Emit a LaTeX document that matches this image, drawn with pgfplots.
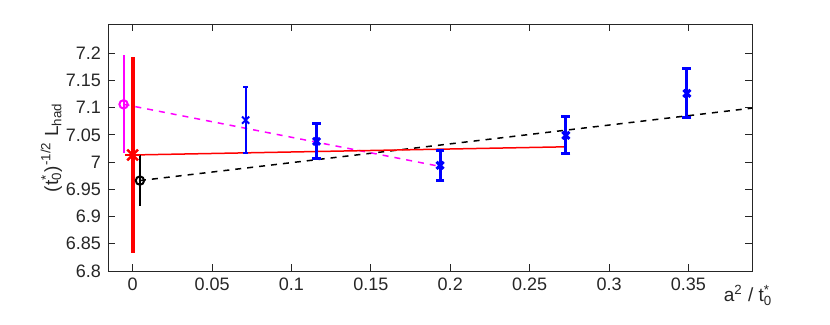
\documentclass[border=0pt]{standalone}
\usepackage{fontspec}
\setmainfont{Liberation Sans}
\usepackage{pgfplots}
\pgfplotsset{compat=1.18}
\definecolor{axgray}{RGB}{38,38,38}
\definecolor{mag}{RGB}{255,0,255}

\begin{document}
\begin{tikzpicture}
\begin{axis}[
    name=ax,
    scale only axis,
    width=322pt, height=123.5pt,
    xmin=-0.0155, xmax=0.39,
    ymin=6.8, ymax=7.2535,
    xtick={0,0.05,0.1,0.15,0.2,0.25,0.3,0.35},
    ytick={6.8,6.85,6.9,6.95,7,7.05,7.1,7.15,7.2},
    scaled ticks=false,
    tick align=inside,
    major tick length=3.5pt,
    axis line style={axgray, line width=0.4pt},
    tick style={axgray, line width=0.4pt},
    ticklabel style={font=\fontsize{9}{10}\selectfont, text=axgray},
    /pgf/number format/assume math mode=true,
    /pgf/number format/fixed,
    label style={font=\fontsize{9.5}{11}\selectfont, text=axgray},
    ylabel={(t\rlap{\textsuperscript{*}}\textsubscript{0})\textsuperscript{-1/2} L\textsubscript{had}},
    ylabel style={at={(axis description cs:-0.088,0.5)}, anchor=center},
    xlabel={a\textsuperscript{2} / t\rlap{\textsuperscript{*}}\textsubscript{0}},
    xlabel style={at={(axis description cs:0.994,-0.1255)}, anchor=base},
]
% fit lines
\addplot[black, dashed, line width=0.75pt] coordinates {(0.0046,6.966) (0.39,7.099)};
\addplot[mag, dashed, line width=0.75pt] coordinates {(-0.0057,7.106) (0.1936,6.992)};
\addplot[red, line width=0.75pt] coordinates {(0,7.013) (0.2728,7.028)};

% magenta extrapolation
\addplot[mag, line width=1pt, mark=o, mark size=2.1pt, only marks,
    error bars/.cd, y dir=both, y explicit, error mark=none,
    error bar style={mag, line width=1pt}]
    coordinates {(-0.0057,7.106) +- (0,0.09)};
% black extrapolation
\addplot[black, line width=1pt, mark=o, mark size=2.1pt, only marks,
    error bars/.cd, y dir=both, y explicit, error mark=none,
    error bar style={black, line width=1pt}]
    coordinates {(0.0046,6.966) +- (0,0.047)};

% blue data
\addplot[blue, line width=1pt, mark=x, mark size=2.5pt, only marks,
    error bars/.cd, y dir=both, y explicit,
    error bar style={blue, line width=1pt},
    error mark options={blue, rotate=90, line width=1pt, mark size=1.2pt}]
    coordinates {(0.0712,7.077) +- (0,0.061)};
\addplot[blue, line width=1.5pt, mark=x, mark size=2.5pt, only marks,
    error bars/.cd, y dir=both, y explicit,
    error bar style={blue, line width=1.5pt},
    error mark options={blue, rotate=90, line width=1.5pt, mark size=2.2pt}]
    coordinates {
    (0.1158,7.038) +- (0,0.032)
    (0.1936,6.994) +- (0,0.028)
    (0.2728,7.049) +- (0,0.034)
    (0.349,7.126) +- (0,0.045)
    };

% red continuum value
\addplot[red, line width=1.2pt, mark=+, mark size=3.8pt, only marks,
    error bars/.cd, y dir=both, y explicit, error mark=none,
    error bar style={red, line width=2pt}]
    coordinates {(0,7.013) +- (0,0.18)};
\addplot[red, line width=1.2pt, mark=x, mark size=3.8pt, only marks] coordinates {(0,7.013)};
\end{axis}
\path (ax.south west) ++(-54pt,-27pt);
\path (ax.north east) ++(39pt,12pt);
\end{tikzpicture}
\end{document}
